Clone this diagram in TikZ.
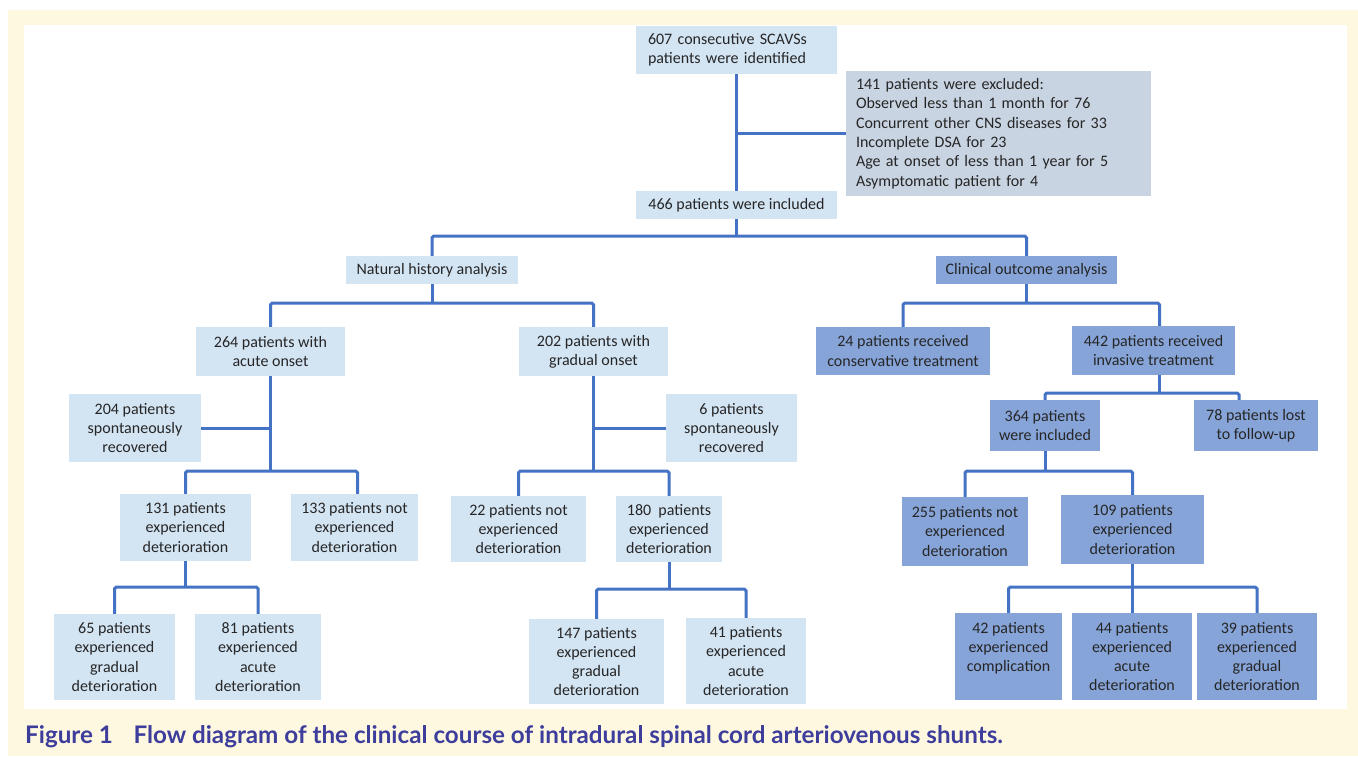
\documentclass[tikz,border=0pt]{standalone}
\usepackage{fontspec}
\setmainfont{Carlito}
\newfontfamily\capfont{Lato}
\definecolor{cream}{HTML}{FFF8E1}
\definecolor{lightbox}{HTML}{D3E4F3}
\definecolor{darkbox}{HTML}{86A4D8}
\definecolor{graybox}{HTML}{C9D4E2}
\definecolor{linkblue}{HTML}{4472C4}
\definecolor{capblue}{HTML}{3D3D9C}
\definecolor{txt}{HTML}{262626}
\newcommand\mkbox[7]{%
  \node[#1, minimum width={(#5-#3)*1pt}, minimum height={(#6-#4)*1pt}]
    (#2) at ({(#3+#5)/2},{(#4+#6)/2}) {#7};}
\begin{document}
\begin{tikzpicture}[x=1pt,y=-1pt,
  box/.style={inner sep=0pt, align=center, font=\fontsize{16}{19.3}\selectfont, text=txt},
  lb/.style={box, fill=lightbox},
  db/.style={box, fill=darkbox},
  gb/.style={box, fill=graybox},
  link/.style={draw=linkblue, line width=3pt, rounded corners=1.5pt}]
\useasboundingbox (0,0) rectangle (1358,756);
\fill[white] (0,0) rectangle (1358,756);
\fill[cream] (8,9.5) rectangle (1358,756);
\fill[white] (24,25) rectangle (1347,709);

% top
\node[lb, minimum width=201pt, minimum height=48pt, inner xsep=12pt, text width=177pt, align=left]
  (n607) at (736.5,50) {607 consecutive SCAVSs\\patients were identified};
\node[gb, minimum width=305pt, minimum height=125pt, inner xsep=10pt, text width=285pt, align=left]
  (nexc) at (998.5,133.5) {141 patients were excluded:\\Observed less than 1 month for 76\\Concurrent other CNS diseases for 33\\Incomplete DSA for 23\\Age at onset of less than 1 year for 5\\Asymptomatic patient for 4};
\mkbox{lb}{n466}{636}{191}{837}{219}{466 patients were included}
\mkbox{lb}{nnat}{346}{256}{518}{284}{Natural history analysis}
\mkbox{db}{nclin}{936}{256}{1117}{284}{Clinical outcome analysis}

% natural history
\mkbox{lb}{n264}{196}{327}{345}{376}{264 patients with\\acute onset}
\mkbox{lb}{n202}{519}{327}{668}{376}{202 patients with\\gradual onset}
\mkbox{lb}{n204}{69}{394}{201}{462}{204 patients\\spontaneously\\recovered}
\mkbox{lb}{n6}{666}{394}{797}{462}{6 patients\\spontaneously\\recovered}
\mkbox{lb}{n131}{120}{494}{251}{561}{131 patients\\experienced\\deterioration}
\mkbox{lb}{n133}{291}{494}{418}{561}{133 patients not\\experienced\\deterioration}
\mkbox{lb}{n22}{451}{496}{586}{562}{22 patients not\\experienced\\deterioration}
\mkbox{lb}{n180}{616}{496}{722}{562}{180\ \ patients\\experienced\\deterioration}
\mkbox{lb}{n65}{54}{614}{175}{700}{65 patients\\experienced\\gradual\\deterioration}
\mkbox{lb}{n81}{195}{614}{321}{700}{81 patients\\experienced\\acute\\deterioration}
\mkbox{lb}{n147}{529}{619}{664}{704}{147 patients\\experienced\\gradual\\deterioration}
\mkbox{lb}{n41}{686}{618}{806}{704}{41 patients\\experienced\\acute\\deterioration}

% clinical outcome
\mkbox{db}{n24}{816}{327}{990}{375}{24 patients received\\conservative treatment}
\mkbox{db}{n442}{1072}{326}{1235}{375}{442 patients received\\invasive treatment}
\mkbox{db}{n364}{990}{400}{1100}{451}{364 patients\\were included}
\mkbox{db}{n78}{1194}{400}{1318}{451}{78 patients lost\\to follow-up}
\mkbox{db}{n255}{902}{497}{1028}{566}{255 patients not\\experienced\\deterioration}
\mkbox{db}{n109}{1061}{495}{1204}{564}{109 patients\\experienced\\deterioration}
\mkbox{db}{n42}{955}{613}{1062}{700}{42 patients\\experienced\\complication\\\mbox{}}
\mkbox{db}{n44}{1072}{613}{1192}{700}{44 patients\\experienced\\acute\\deterioration}
\mkbox{db}{n39}{1197}{613}{1317}{700}{39 patients\\experienced\\gradual\\deterioration}

% connectors
\draw[link] (n607.south) -- (n466.north);
\draw[link] (n607.south |- nexc.west) -- (nexc.west);
\draw[link] (n466.south) -- ++(0,17) coordinate (j1);
\draw[link] (nnat.north) |- (j1) -| (nclin.north);

\draw[link] (nnat.south) -- ++(0,19) coordinate (j2);
\draw[link] (n264.north) |- (j2) -| (n202.north);

\draw[link] (n264.south) -- ++(0,95) coordinate (j3);
\draw[link] (n264.south |- n204.east) -- (n204.east);
\draw[link] (n131.north) |- (j3) -| ([xshift=3pt]n133.north);

\draw[link] (n202.south) -- ++(0,95) coordinate (j4);
\draw[link] (n202.south |- n6.west) -- (n6.west);
\draw[link] (n22.north) |- (j4) -| (n180.north);

\draw[link] (n131.south) -- ++(0,26) coordinate (j5);
\draw[link] (n65.north) |- (j5) -| (n81.north);

\draw[link] (n180.south) -- ++(0,27) coordinate (j6);
\draw[link] (n147.north) |- (j6) -| (n41.north);

\draw[link] (nclin.south) -- ++(0,19) coordinate (j7);
\draw[link] (n24.north) |- (j7) -| ([xshift=6pt]n442.north);

\draw[link] ([xshift=6pt]n442.south) -- ++(0,18) coordinate (j8);
\draw[link] (n364.north) |- (j8) -| ([xshift=-17pt]n78.north);

\draw[link] (n364.south) -- ++(0,20) coordinate (j9);
\draw[link] (n255.north) |- (j9) -| (n109.north);

\draw[link] (n109.south) -- ++(0,23) coordinate (j10);
\draw[link] (n42.north) |- (j10) -| (n39.north);
\draw[link] (j10) -- (j10 |- n44.north);

% caption
\node[anchor=base west, inner sep=0pt, text=capblue, font=\capfont\bfseries\fontsize{24.2}{28}\selectfont]
  (cap) at (25,743) {Figure 1\hspace{0.85em}Flow diagram of the clinical course of intradural spinal cord arteriovenous shunts.};
\end{tikzpicture}
\end{document}
